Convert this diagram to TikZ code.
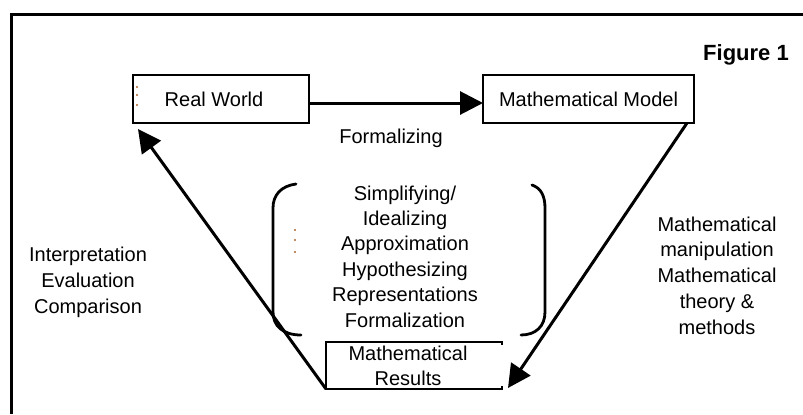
\documentclass[tikz,border=0pt]{standalone}
\usepackage{fontspec}
\setmainfont{Liberation Sans}
\usetikzlibrary{arrows.meta}
\definecolor{markbrown}{HTML}{B0642A}
\begin{document}
\begin{tikzpicture}[x=0.5pt,y=-0.5pt,
  every node/.style={font=\fontsize{10}{12.7}\selectfont, inner sep=0pt, outer sep=0pt},
  box/.style={draw, line width=1pt},
  conn/.style={line width=1.5pt, -{Triangle[length=11.5pt,width=11.5pt]}},
  brk/.style={line width=1.4pt, line cap=round},
  hidmark/.style={fill=markbrown, draw=none, minimum size=1.1pt, circle}]
\useasboundingbox (0,0) rectangle (803,414);
% outer frame
\draw[line width=1.6pt] (11.5,414) -- (11.5,14.5) -- (803,14.5);
% boxes
\node[box, minimum width=88pt, minimum height=24pt] (rw) at (221,99) {};
\node[anchor=base] (rwt) at (214,106) {Real World};
\node[box, minimum width=105.5pt, minimum height=24pt] (mm) at (588.5,99) {Mathematical Model};
\node[minimum width=88pt, minimum height=23.5pt] (res) at (414,365.5) {};
\draw[line width=0.6pt] ([yshift=-1.5pt]res.north east) -- (res.north east) -- (res.north west)
   -- (res.south west) -- (res.south east) -- ([yshift=1.5pt]res.south east);
\node[align=center, font=\fontsize{10}{12.5}\selectfont] (rest) at (408,366) {Mathematical\\Results};
% labels
\node[anchor=base, font=\fontsize{11}{13}\bfseries] (fig) at (746,60) {Figure 1};
\node[anchor=base] (form) at (391,143) {Formalizing};
\node[align=center, font=\fontsize{10}{12.7}\selectfont] (list) at (405,256.5)
  {Simplifying/\\Idealizing\\Approximation\\Hypothesizing\\Representations\\Formalization};
\node[align=center, font=\fontsize{10}{13}\selectfont] (interp) at (88,282)
  {Interpretation\\Evaluation\\Comparison};
\node[align=center, font=\fontsize{10}{12.9}\selectfont] (manip) at (717,275.5)
  {Mathematical\\manipulation\\Mathematical\\theory \&\\methods};
% brackets
\draw[brk] (296,184) .. controls (281,186) and (273,195) .. (273,208) -- (273,312)
   .. controls (273,326) and (283,335) .. (301,335);
\draw[brk] (532,185) .. controls (541,188) and (545,196) .. (545,208) -- (545,312)
   .. controls (545,326) and (536,335) .. (521,335);
% connectors
\draw[conn] ([yshift=-2pt]rw.east) -- ([yshift=-2pt]mm.west);
\draw[conn] (res.south west) -- ([xshift=2.5pt,yshift=-3pt]rw.south west);
\draw[conn] ([xshift=-3.5pt]mm.south east) -- ([xshift=3pt,yshift=0.5pt]res.south east);
% hidden-text marks
\node[hidmark] (d1) at (137,87) {};
\node[hidmark] (d2) at (137,95) {};
\node[hidmark] (d3) at (137,105) {};
\node[hidmark] (d4) at (295,230) {};
\node[hidmark] (d5) at (295,240) {};
\node[hidmark] (d6) at (295,252) {};
\end{tikzpicture}
\end{document}
